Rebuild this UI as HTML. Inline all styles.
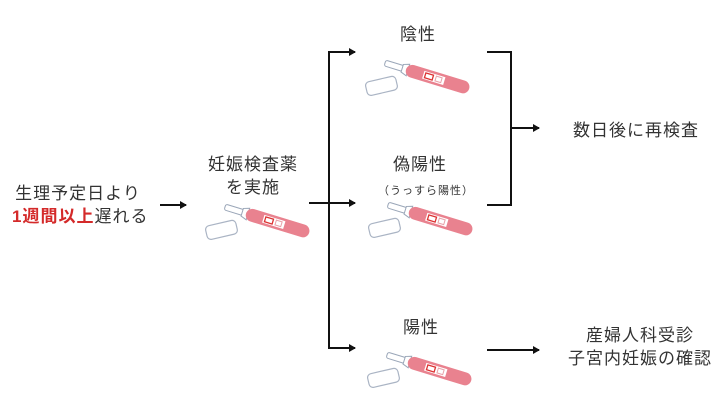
<!DOCTYPE html>
<html><head><meta charset="utf-8"><style>
html,body{margin:0;padding:0;background:#fff;}
svg text{font-family:"Liberation Sans","Noto Sans CJK JP",sans-serif;fill:#333;}
</style></head><body>
<svg width="720" height="403" viewBox="0 0 720 403" xmlns="http://www.w3.org/2000/svg">
<defs>
<marker id="ah" markerWidth="8" markerHeight="8" refX="6" refY="4" orient="auto" markerUnits="userSpaceOnUse">
<path d="M0,0 L7,4 L0,8 Z" fill="#111"/>
</marker>
<g id="kit">
  <g transform="rotate(17)">
    <rect x="0" y="-3" width="22" height="6" rx="2" fill="#fff" stroke="#9aa6b8" stroke-width="1"/>
    <path d="M18,-4 L24,-6 L24,6 L18,4 Z" fill="#fff" stroke="#9aa6b8" stroke-width="1"/>
    <rect x="22" y="-6.5" width="66" height="13" rx="6.5" fill="#e9828f"/>
    <rect x="40" y="-4" width="22" height="8" fill="#fff"/>
    <rect x="42" y="-2.5" width="8" height="5" fill="none" stroke="#d33" stroke-width="1.3"/>
    <rect x="53" y="-2.5" width="6" height="5" fill="none" stroke="#e9a0a8" stroke-width="1"/>
  </g>
  <g transform="translate(-4,23) rotate(-13)">
    <rect x="-15" y="-7" width="31" height="14" rx="4" fill="#fff" stroke="#aab4c4" stroke-width="1.2"/>
  </g>
</g>
</defs>

<!-- left text -->
<text x="78" y="199" font-size="17" text-anchor="middle" letter-spacing="1">生理予定日より</text>
<text x="12" y="222" font-size="17" letter-spacing="1"><tspan fill="#d42a2a" style="fill:#d42a2a;font-weight:bold">1週間以上</tspan>遅れる</text>

<!-- center -->
<text x="253" y="170" font-size="17" text-anchor="middle" letter-spacing="1">妊娠検査薬</text>
<text x="253" y="193" font-size="17" text-anchor="middle" letter-spacing="1">を実施</text>
<use href="#kit" transform="translate(225,207)"/>

<!-- arrows -->
<g stroke="#111" stroke-width="2" fill="none">
<line x1="160" y1="205" x2="186" y2="205" marker-end="url(#ah)"/>
<line x1="309" y1="203" x2="355" y2="203" marker-end="url(#ah)"/>
<line x1="329" y1="52" x2="329" y2="349"/>
<line x1="328" y1="52" x2="355" y2="52" marker-end="url(#ah)"/>
<line x1="328" y1="348" x2="355" y2="348" marker-end="url(#ah)"/>
<polyline points="487,52 511,52 511,205 487,205"/>
<line x1="511" y1="128" x2="539" y2="128" marker-end="url(#ah)"/>
<line x1="487" y1="350" x2="539" y2="350" marker-end="url(#ah)"/>
</g>

<!-- right column -->
<text x="418" y="40" font-size="17" text-anchor="middle" letter-spacing="1">陰性</text>
<use href="#kit" transform="translate(385,63)"/>
<text x="420" y="170" font-size="17" text-anchor="middle" letter-spacing="1">偽陽性</text>
<text x="426" y="194" font-size="11" text-anchor="middle" letter-spacing="1">（うっすら陽性）</text>
<use href="#kit" transform="translate(388,205)"/>
<text x="421" y="333" font-size="17" text-anchor="middle" letter-spacing="1">陽性</text>
<use href="#kit" transform="translate(387,355)"/>

<text x="636" y="136" font-size="17" text-anchor="middle" letter-spacing="1">数日後に再検査</text>
<text x="640" y="341" font-size="17" text-anchor="middle" letter-spacing="1">産婦人科受診</text>
<text x="640" y="364" font-size="17" text-anchor="middle" letter-spacing="1">子宮内妊娠の確認</text>
</svg>
</body></html>
